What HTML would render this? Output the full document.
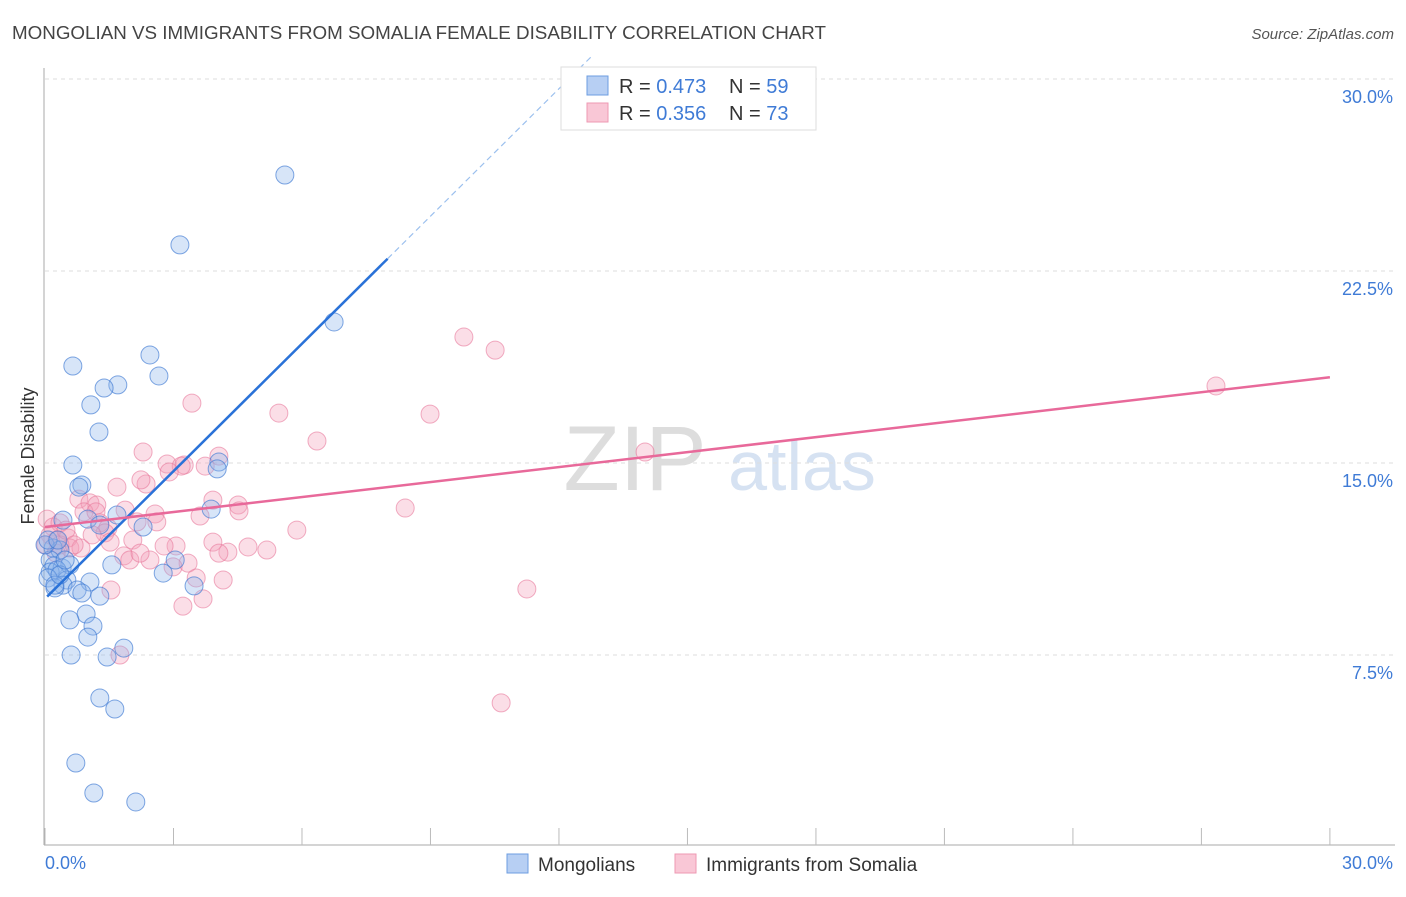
<!DOCTYPE html>
<html><head><meta charset="utf-8"><style>
body{margin:0;background:#fff;font-family:"Liberation Sans",sans-serif}
svg text{font-family:"Liberation Sans",sans-serif}
</style></head><body>
<svg id="c" width="1406" height="892">
<text x="12" y="39" font-size="18.8" fill="#444">MONGOLIAN VS IMMIGRANTS FROM SOMALIA FEMALE DISABILITY CORRELATION CHART</text>
<text x="1394" y="39" font-size="15" fill="#555" font-style="italic" text-anchor="end">Source: ZipAtlas.com</text>
<text x="34" y="456" font-size="18" fill="#333" text-anchor="middle" transform="rotate(-90 34 456)">Female Disability</text>
<g><text x="635" y="490" font-size="92" fill="#ddd" font-family="Liberation Serif" text-anchor="middle">ZIP</text><text x="802" y="490" font-size="70" fill="#d6e2f2" text-anchor="middle">atlas</text></g>
<g id="grid"></g><g id="marks"></g><g id="lines"></g>
<g>
<rect x="561" y="67" width="255" height="63" fill="#fff" stroke="#ddd"/>
<rect x="587" y="76" width="21" height="19" fill="#b7cff3" stroke="#6c9de0"/>
<rect x="587" y="103" width="21" height="19" fill="#f9c7d6" stroke="#ee99b3"/>
<text x="619" y="93" font-size="20" fill="#333">R = <tspan fill="#3f7bd6">0.473</tspan></text>
<text x="729" y="93" font-size="20" fill="#333">N = <tspan fill="#3f7bd6">59</tspan></text>
<text x="619" y="120" font-size="20" fill="#333">R = <tspan fill="#3f7bd6">0.356</tspan></text>
<text x="729" y="120" font-size="20" fill="#333">N = <tspan fill="#3f7bd6">73</tspan></text>
</g>
<g>
<rect x="507" y="854" width="21" height="19" fill="#b7cff3" stroke="#6c9de0"/>
<text x="538" y="871" font-size="19" fill="#333">Mongolians</text>
<rect x="675" y="854" width="21" height="19" fill="#f9c7d6" stroke="#ee99b3"/>
<text x="706" y="871" font-size="19" fill="#333">Immigrants from Somalia</text>
</g>
</svg>
<script>
const yTicks=[7.5,15,22.5,30];
const xTicks=[0,3,6,9,12,15,18,21,24,27,30];
const blueX=[5.60,3.15,6.75,2.45,0.65,2.66,1.70,1.38,1.07,1.26,0.65,4.06,4.02,0.86,0.79,3.88,1.68,1.00,0.42,1.28,2.29,0.19,0.35,0.12,0.21,0.40,0.58,0.12,0.28,0.07,0.51,0.42,0.23,1.05,0.75,0.86,1.56,2.76,3.04,3.48,1.28,0.96,0.58,1.12,1.00,0.61,1.84,1.45,1.28,1.63,0.72,1.14,2.12,0.23,0.0,0.07,0.35,0.47,0.30];
const blueY=[26.25,23.52,20.51,19.22,18.79,18.40,18.05,17.93,17.27,16.21,14.92,15.04,14.77,14.14,14.06,13.20,12.97,12.81,12.77,12.58,12.50,11.68,11.60,11.21,10.98,10.90,11.02,10.74,10.82,10.51,10.43,10.23,10.12,10.35,10.04,9.92,11.02,10.70,11.21,10.20,9.80,9.10,8.87,8.63,8.20,7.50,7.77,7.42,5.82,5.39,3.28,2.11,1.76,10.23,11.80,11.99,10.63,11.21,11.99];
const pinkX=[27.34,9.78,10.51,3.43,5.46,8.99,6.35,14.01,2.29,4.06,2.85,3.25,3.74,3.18,2.90,1.68,2.36,2.24,3.92,4.51,0.79,1.05,1.21,8.41,0.91,1.19,1.87,2.57,3.62,4.53,5.88,2.15,2.61,0.05,0.19,0.35,1.28,1.47,0.12,0.28,0.54,0.02,1.40,2.05,0.58,0.84,3.92,3.06,4.74,5.18,4.27,4.06,1.84,1.98,2.45,3.34,2.99,3.53,4.16,1.54,11.25,3.69,3.22,1.75,10.65,0.35,0.49,2.22,0.68,2.78,1.52,1.10,0.26];
const pinkY=[18.01,19.92,19.41,17.34,16.95,16.91,15.86,15.43,15.43,15.27,14.96,14.92,14.88,14.88,14.65,14.06,14.18,14.34,13.55,13.36,13.59,13.44,13.36,13.24,13.09,13.09,13.16,13.01,12.93,13.13,12.38,12.70,12.70,12.81,12.50,12.66,12.66,12.46,12.19,11.99,12.07,11.80,12.27,11.99,11.68,11.68,11.91,11.76,11.72,11.60,11.52,11.48,11.37,11.21,11.21,11.09,10.94,10.51,10.43,10.04,10.08,9.69,9.41,7.50,5.63,11.80,12.38,11.48,11.80,11.76,11.91,12.19,11.48];
const blueLine=[9.7,1.66];
const pinkLine=[12.5,0.195];
const X=v=>45+v*42.83, Y=v=>847-v*25.6;
const NS='http://www.w3.org/2000/svg';
function mk(t,a,p){const e=document.createElementNS(NS,t);for(const k in a)e.setAttribute(k,a[k]);p.appendChild(e);return e;}
const g=document.getElementById('grid'),m=document.getElementById('marks'),l=document.getElementById('lines');
yTicks.forEach(t=>{const ln=mk('line',{x1:45,x2:1395,y1:Y(t),y2:Y(t),stroke:'#ddd','stroke-dasharray':'4,4'},g);


const tx=mk('text',{x:1393,y:Y(t)+24,'font-size':18,fill:'#3f7bd6','text-anchor':'end'},g);tx.textContent=t.toFixed(1)+'%';

});
mk('line',{x1:44,x2:44,y1:68,y2:845,stroke:'#aaa'},g);
mk('line',{x1:44,x2:1395,y1:845,y2:845,stroke:'#aaa'},g);
xTicks.forEach(t=>{const tk=mk('line',{x1:X(t),x2:X(t),y1:828,y2:845,stroke:'#bbb'},g);

});
const x0=mk('text',{x:45,y:869,'font-size':18,fill:'#3f7bd6'},g);x0.textContent='0.0%';


const x1=mk('text',{x:1393,y:869,'font-size':18,fill:'#3f7bd6','text-anchor':'end'},g);x1.textContent='30.0%';


pinkX.forEach((v,i)=>{const c=mk('circle',{cx:X(v),cy:Y(pinkY[i]),r:9,fill:'rgba(244,160,185,0.35)',stroke:'rgba(232,120,155,0.6)'},m);

});
blueX.forEach((v,i)=>{const c=mk('circle',{cx:X(v),cy:Y(blueY[i]),r:9,fill:'rgba(140,180,235,0.35)',stroke:'rgba(60,120,210,0.65)'},m);

});
const bl=mk('line',{x1:X(0.05),y1:Y(blueLine[0]+blueLine[1]*0.05),x2:X(8),y2:Y(blueLine[0]+blueLine[1]*8),stroke:'#2a72d8','stroke-width':2.5},l);


const bd=mk('line',{x1:X(8),y1:Y(blueLine[0]+blueLine[1]*8),x2:X(12.8),y2:Y(blueLine[0]+blueLine[1]*12.8),stroke:'#9cc0ee','stroke-width':1.2,'stroke-dasharray':'6,4'},l);


const pl=mk('line',{x1:X(0),y1:Y(pinkLine[0]),x2:X(30),y2:Y(pinkLine[0]+pinkLine[1]*30),stroke:'#e8699a','stroke-width':2.5},l);


</script>
</body></html>
